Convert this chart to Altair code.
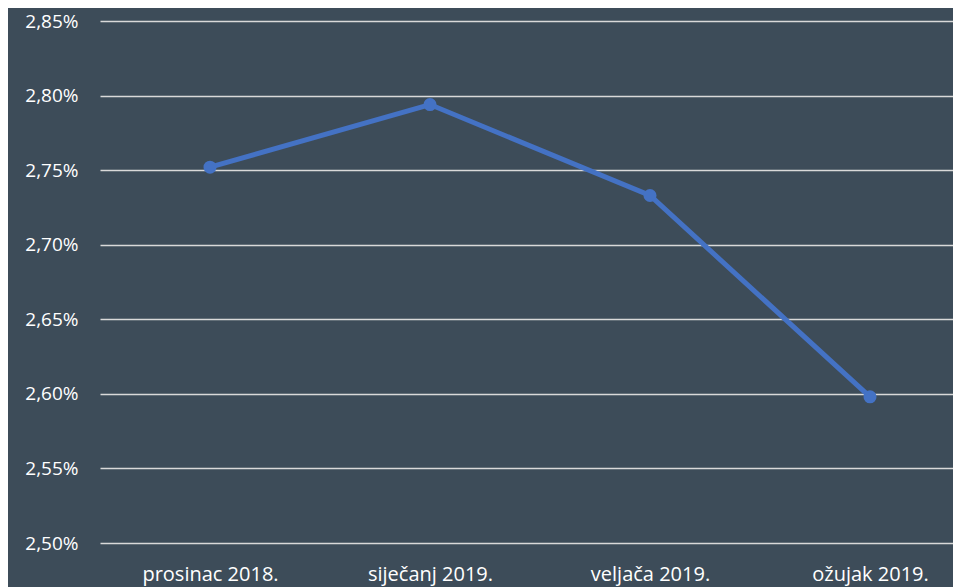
import altair as alt
import pandas as pd

months = ["prosinac 2018.", "siječanj 2019.", "veljača 2019.", "ožujak 2019."]
rates = [2.752, 2.794, 2.733, 2.598]
y_ticks = [2.50, 2.55, 2.60, 2.65, 2.70, 2.75, 2.80, 2.85]

df = pd.DataFrame({"month": months, "rate": rates})

BG = "#3d4c59"
FONT = "Open Sans"

x = alt.X("month:N", sort=months, title=None,
          scale=alt.Scale(type="point", padding=0.4386, align=0.57),
          axis=alt.Axis(labelAngle=0, labelColor="#ffffff", labelFontSize=20,
                        labelFont=FONT, labelPadding=21, ticks=False, domain=False,
                        grid=False, labelFontWeight="normal"))
y = alt.Y("rate:Q", title=None,
          scale=alt.Scale(domain=[2.50, 2.85], nice=False, zero=False),
          axis=alt.Axis(values=y_ticks, labelExpr="replace(format(datum.value, '.2f'), '.', ',') + '%'",
                        labelColor="#ffffff", labelFontSize=19, labelFont=FONT,
                        labelPadding=22, ticks=False, domain=False,
                        grid=True, gridColor="#d9d9d9", gridWidth=1.6))

line = alt.Chart(df).mark_line(color="#4472c4", strokeWidth=5).encode(x=x, y=y)
pts = alt.Chart(df).mark_point(color="#4472c4", filled=True, opacity=1, size=170).encode(x=x, y=y)

chart = alt.layer(line, pts).properties(
    width=853, height=522,
    background=BG,
    padding={"left": 92, "top": 13, "right": 0, "bottom": 44},
    autosize=alt.AutoSizeParams(type="none"),
).configure_view(stroke=None, fill=BG)

chart.save("out.html", embed_options={"renderer": "svg", "actions": False})
